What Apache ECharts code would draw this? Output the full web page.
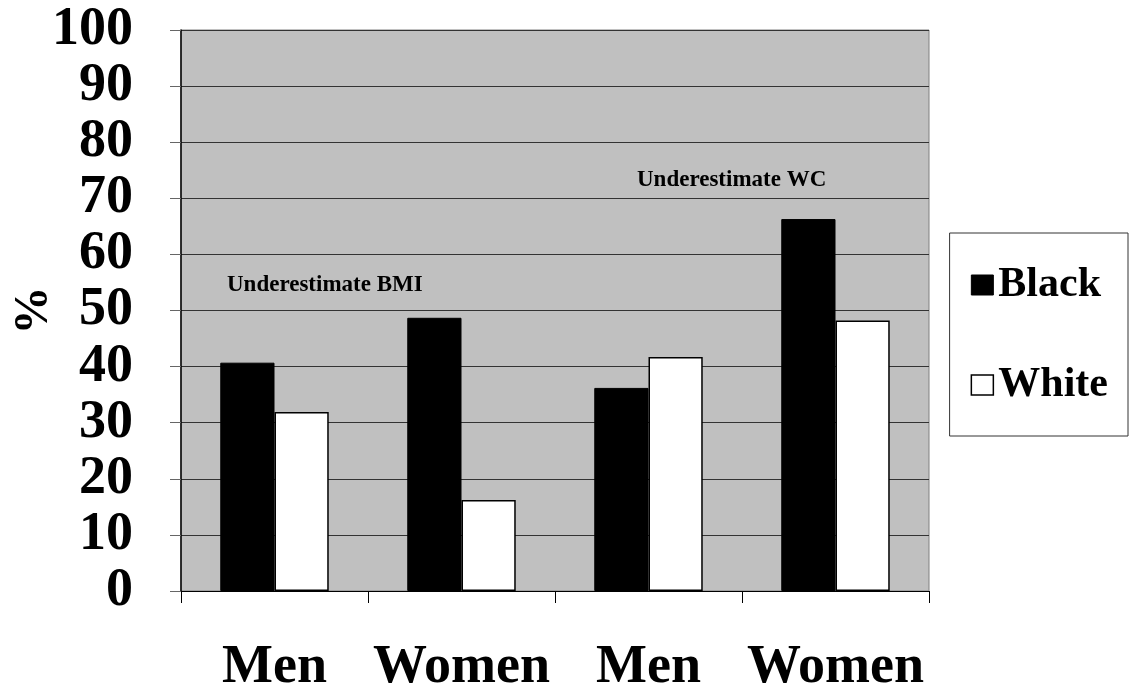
<!DOCTYPE html>
<html>
<head>
<meta charset="utf-8">
<script src="https://cdn.jsdelivr.net/npm/echarts@6/dist/echarts.min.js"></script>
<style>
  html, body { margin: 0; padding: 0; background: #fff; }
  #chart { width: 1130px; height: 696px; }
</style>
</head>
<body>
<div id="chart"></div>
<script>
// Categories along the x axis (BMI pair, then WC pair)
const categories = ['Men', 'Women', 'Men', 'Women'];
// Percent underestimating, by race
const blackValues = [40.7, 48.7, 36.2, 66.3];
const whiteValues = [31.9, 16.2, 41.7, 48.2];
const seriesNames = ['Black', 'White'];
const yTicks = [0, 10, 20, 30, 40, 50, 60, 70, 80, 90, 100];

const serif = '"Liberation Serif", "Times New Roman", serif';

const chart = echarts.init(document.getElementById('chart'), null, { renderer: 'canvas' });

chart.setOption({
  animation: false,
  backgroundColor: '#ffffff',
  grid: {
    left: 181, right: 201, top: 30, bottom: 105,
    outerBoundsMode: 'none',
    containLabel: false,
    show: true,
    backgroundColor: '#c0c0c0',
    borderColor: '#808080',
    borderWidth: 1
  },
  legend: {
    orient: 'vertical',
    right: 2,
    top: 233,
    padding: [31, 20, 30, 21],
    itemGap: 58,
    itemWidth: 22,
    itemHeight: 20,
    borderColor: '#333',
    borderWidth: 1,
    backgroundColor: '#fff',
    textStyle: { fontFamily: serif, fontWeight: 'bold', fontSize: 42, color: '#000' },
    data: [
      { name: seriesNames[0], icon: 'rect', itemStyle: { color: '#000', borderColor: '#000', borderWidth: 1 } },
      { name: seriesNames[1], icon: 'rect', itemStyle: { color: '#fff', borderColor: '#000', borderWidth: 1.5 } }
    ]
  },
  xAxis: {
    type: 'category',
    data: categories,
    axisLine: { show: true, lineStyle: { color: '#000', width: 1 } },
    axisTick: { show: true, interval: 0, length: 12, inside: false, lineStyle: { color: '#000' } },
    axisLabel: {
      interval: 0,
      margin: 50,
      fontFamily: serif, fontWeight: 'bold', fontSize: 54, color: '#000'
    },
    splitLine: { show: false }
  },
  yAxis: {
    type: 'value',
    min: yTicks[0],
    max: yTicks[yTicks.length - 1],
    interval: 10,
    name: '%',
    nameLocation: 'middle',
    nameGap: 122,
    nameMoveOverlap: false,
    nameRotate: 90,
    nameTextStyle: { fontFamily: serif, fontWeight: 'bold', fontSize: 48, color: '#000' },
    axisLine: { show: true, lineStyle: { color: '#000', width: 1.5 } },
    axisTick: { show: true, length: 11, lineStyle: { color: '#666' } },
    axisLabel: {
      margin: 48,
      fontFamily: serif, fontWeight: 'bold', fontSize: 54, color: '#000'
    },
    splitLine: { show: true, lineStyle: { color: '#333', width: 1 } }
  },
  series: [
    {
      name: seriesNames[0],
      type: 'bar',
      data: blackValues,
      barGap: '0%',
      barCategoryGap: '42%',
      itemStyle: { color: '#000', borderColor: '#000', borderWidth: 1 }
    },
    {
      name: seriesNames[1],
      type: 'bar',
      data: whiteValues,
      barGap: '0%',
      barCategoryGap: '42%',
      itemStyle: { color: '#fff', borderColor: '#000', borderWidth: 1.5 }
    }
  ],
  graphic: [
    {
      type: 'text', left: 227, top: 274,
      style: { text: 'Underestimate BMI', fontFamily: serif, fontWeight: 'bold', fontSize: 23, fill: '#000' }
    },
    {
      type: 'text', left: 637, top: 169,
      style: { text: 'Underestimate WC', fontFamily: serif, fontWeight: 'bold', fontSize: 23, fill: '#000' }
    }
  ]
});
</script>
</body>
</html>
